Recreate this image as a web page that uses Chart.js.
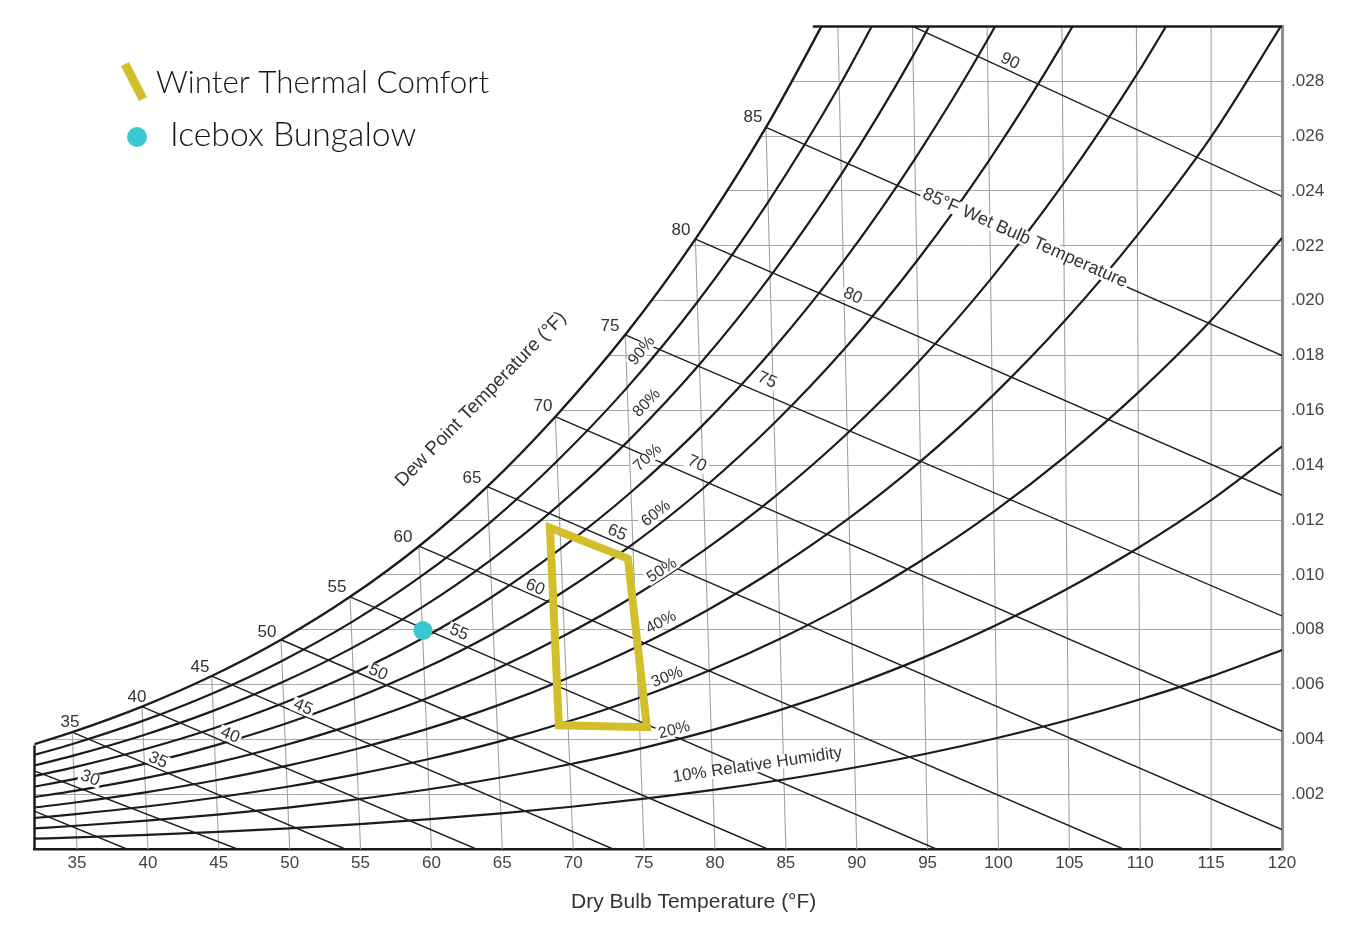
<!DOCTYPE html>
<html>
<head>
<meta charset="utf-8">
<title>Psychrometric chart</title>
<script src="https://cdn.jsdelivr.net/npm/chart.js@4.4.1/dist/chart.umd.min.js"></script>
<style>
  html, body { margin: 0; padding: 0; background: #fff; }
  #wrap { width: 1351px; height: 931px; position: relative; }
</style>
</head>
<body>
<div id="wrap"><canvas id="psychro"></canvas></div>
<script>
'use strict'

// Axis ticks
const xTicks = [35, 40, 45, 50, 55, 60, 65, 70, 75, 80, 85, 90, 95, 100, 105, 110, 115, 120];
const yTicks = [0.002, 0.004, 0.006, 0.008, 0.010, 0.012, 0.014, 0.016, 0.018, 0.020, 0.022, 0.024, 0.026, 0.028];

// Relative humidity curves: [dry bulb (as drawn), humidity ratio]
const rh10 = [[31.97,0.000375],[34.97,0.000423],[39.96,0.000516],[44.95,0.000625],[49.94,0.000755],[54.93,0.000908],[59.91,0.001087],[64.90,0.001297],[69.88,0.001542],[74.87,0.001826],[79.87,0.002155],[84.86,0.002535],[89.87,0.002973],[94.88,0.003475],[99.89,0.004049],[104.92,0.004705],[109.95,0.005451],[115,0.006297],[120,0.007255]];
const rh20 = [[31.94,0.000751],[34.93,0.000848],[39.92,0.001032],[44.90,0.001252],[49.88,0.001512],[54.85,0.001818],[59.83,0.002178],[64.79,0.002599],[69.75,0.003091],[74.74,0.003663],[79.73,0.004325],[84.73,0.005091],[89.73,0.005974],[94.75,0.006989],[99.78,0.008151],[104.83,0.009481],[109.90,0.010997],[115,0.012723],[120,0.014683]];
const rh30 = [[31.91,0.001128],[34.90,0.001272],[39.88,0.001550],[44.85,0.001879],[49.82,0.002270],[54.78,0.002731],[59.74,0.003273],[64.69,0.003907],[69.63,0.004648],[74.61,0.005510],[79.60,0.006510],[84.59,0.007669],[89.60,0.009005],[94.62,0.010542],[99.67,0.012308],[104.74,0.014331],[109.85,0.016644],[115,0.019282],[120,0.022286]];
const rh40 = [[31.88,0.001504],[34.86,0.001697],[39.83,0.002068],[44.80,0.002508],[49.76,0.003030],[54.71,0.003647],[59.65,0.004371],[64.58,0.005220],[69.50,0.006213],[74.48,0.007369],[79.46,0.008711],[84.45,0.010267],[89.46,0.012065],[94.50,0.014136],[99.56,0.016519],[104.66,0.019256],[109.80,0.022392],[115,0.025977],[120,0.030075]];
const rh50 = [[31.85,0.001882],[34.83,0.002123],[39.79,0.002587],[44.75,0.003139],[49.70,0.003793],[54.63,0.004565],[59.56,0.005473],[64.48,0.006539],[69.38,0.007786],[74.34,0.009238],[79.32,0.010928],[84.31,0.012887],[89.33,0.015153],[94.37,0.017771],[99.45,0.020787],[104.57,0.024258],[109.75,0.028242],[115,0.032814]];
const rh60 = [[31.82,0.002259],[34.80,0.002549],[39.75,0.003107],[44.70,0.003770],[49.64,0.004557],[54.56,0.005486],[59.47,0.006580],[64.37,0.007863],[69.25,0.009366],[74.21,0.011119],[79.18,0.013159],[84.17,0.015528],[89.19,0.018273],[94.24,0.021448],[99.33,0.025112],[104.48,0.029338],[109.70,0.034203]];
const rh70 = [[31.79,0.002638],[34.76,0.002976],[39.71,0.003628],[44.65,0.004403],[49.57,0.005323],[54.49,0.006409],[59.38,0.007690],[64.26,0.009193],[69.12,0.010954],[74.07,0.013011],[79.04,0.015406],[84.03,0.018193],[89.05,0.021423],[94.10,0.025166],[99.21,0.029496],[104.39,0.034498]];
const rh80 = [[31.76,0.003016],[34.73,0.003404],[39.67,0.004149],[44.60,0.005037],[49.51,0.006091],[54.41,0.007336],[59.30,0.008804],[64.16,0.010529],[69.00,0.012551],[73.94,0.014914],[78.90,0.017670],[83.89,0.020878],[88.91,0.024605],[93.97,0.028929],[99.09,0.033940]];
const rh90 = [[31.73,0.003395],[34.69,0.003832],[39.63,0.004672],[44.55,0.005673],[49.45,0.006860],[54.34,0.008265],[59.21,0.009922],[64.05,0.011870],[68.87,0.014155],[73.80,0.016829],[78.76,0.019950],[83.74,0.023587],[88.76,0.027818],[93.83,0.032737]];
const rh100 = [[31.70,0.003775],[34.66,0.004261],[39.58,0.005196],[44.50,0.006309],[49.39,0.007632],[54.26,0.009197],[59.12,0.011044],[63.94,0.013218],[68.74,0.015768],[73.67,0.018755],[78.62,0.022245],[83.60,0.026320],[88.62,0.031064]];
const rhLevels = [10, 20, 30, 40, 50, 60, 70, 80, 90];

// Wet bulb lines: [x1, w1, x2, w2]
const wetBulbTemps = [25, 30, 35, 40, 45, 50, 55, 60, 65, 70, 75, 80, 85, 90];
const wetBulbLines = [
  [31.9, 0.0014, 38.5, 0], [31.75, 0.0029, 46.3, 0], [34.66, 0.004261, 53.9, 0],
  [39.58, 0.005196, 63.15, 0], [44.50, 0.006309, 72.8, 0], [49.39, 0.007632, 83.7, 0],
  [54.26, 0.009197, 95.6, 0], [59.12, 0.011044, 108.8, 0], [63.94, 0.013218, 120, 0.00071],
  [68.74, 0.015768, 120, 0.00429], [73.67, 0.018755, 120, 0.0085], [78.62, 0.022245, 120, 0.0129],
  [83.60, 0.026320, 120, 0.0180], [89.5, 0.031064, 120, 0.0238]
];

// Dry bulb lines (they lean a little): [bottom, top x, top w]
const dryBulbLines = [
  [35, 34.66, 0.004261], [40, 39.58, 0.005196], [45, 44.50, 0.006309], [50, 49.39, 0.007632],
  [55, 54.26, 0.009197], [60, 59.12, 0.011044], [65, 63.94, 0.013218], [70, 68.74, 0.015768],
  [75, 73.67, 0.018755], [80, 78.62, 0.022245], [85, 83.60, 0.026320], [90, 88.67, 0.030],
  [95, 93.93, 0.030], [100, 99.20, 0.030], [105, 104.47, 0.030], [110, 109.73, 0.030], [115, 115, 0.030]
];

// Overlays
const comfortZone = [[68.36, 0.01172], [73.86, 0.01059], [75.20, 0.00444], [68.99, 0.00451]];
const icebox = [59.40, 0.00797];

// Chart frame
const frameLeft = [[32, 0], [32, 0.00378]];
const frameTop = [[86.9, 0.030], [120, 0.030]];
const frameMask = [[32, 0.0040], [32, 0.030]];

// Label anchors (data units)
const dewPointTemps = [35, 40, 45, 50, 55, 60, 65, 70, 75, 80, 85];
const dewPointSpots = [[34.50,0.00462],[39.23,0.00553],[43.67,0.00663],[48.40,0.00790],[53.34,0.00954],[57.99,0.01136],[62.86,0.01351],[67.87,0.01616],[72.60,0.01908],[77.60,0.02257],[82.68,0.02670]];
const wbLabelTemps = [30, 35, 40, 45, 50, 55, 60, 65, 70, 75, 80, 90];
const wbLabelSpots = [[35.92,0.00258],[40.71,0.00324],[45.79,0.00415],[50.94,0.00517],[56.23,0.00644],[61.94,0.00790],[67.31,0.00954],[73.09,0.01154],[78.73,0.01405],[83.67,0.01710],[89.72,0.02017],[100.81,0.02873]];
const rhLabelLevels = [20, 30, 40, 50, 60, 70, 80, 90];
const rhLabelSpots = [[77.13,0.00433],[76.63,0.00626],[76.20,0.00826],[76.27,0.01016],[75.85,0.01223],[75.26,0.01427],[75.19,0.01627],[74.84,0.01817]];

const YELLOW = '#d3bf2b';
const CYAN = '#3cc6d1';
const INK = '#1c1c1c';
const TEXT = '#333';
const FONT = '"Liberation Sans", Arial, sans-serif';

const rhCurves = [rh10, rh20, rh30, rh40, rh50, rh60, rh70, rh80, rh90];
const toXY = arr => arr.map(p => ({x: p[0], y: p[1]}));

function angleOn(chart, pts, x) {
  const sx = chart.scales.x, sy = chart.scales.y;
  let i = 1;
  while (i < pts.length - 1 && pts[i][0] < x) i++;
  const a = pts[i - 1], b = pts[i];
  return Math.atan2(sy.getPixelForValue(b[1]) - sy.getPixelForValue(a[1]),
                    sx.getPixelForValue(b[0]) - sx.getPixelForValue(a[0]));
}

function putText(ctx, text, x, y, angle, size, knock) {
  ctx.save();
  ctx.translate(x, y);
  ctx.rotate(angle);
  ctx.font = size + 'px ' + FONT;
  ctx.textAlign = 'center';
  ctx.textBaseline = 'middle';
  if (knock) {
    const w = ctx.measureText(text).width;
    ctx.fillStyle = '#fff';
    ctx.fillRect(-w / 2 - 2, -size * 0.42, w + 4, size * 0.84);
  }
  ctx.fillStyle = TEXT;
  ctx.fillText(text, 0, 0);
  ctx.restore();
}

// labels go under the comfort zone outline
const chartLabels = {
  id: 'chartLabels',
  beforeDatasetDraw(chart, args) {
    if (args.index !== 1) return;
    const ctx = chart.ctx;
    const px = v => chart.scales.x.getPixelForValue(v);
    const py = v => chart.scales.y.getPixelForValue(v);

    dewPointTemps.forEach((t, i) => {
      putText(ctx, String(t), px(dewPointSpots[i][0]), py(dewPointSpots[i][1]), 0, 17, false);
    });

    wbLabelTemps.forEach((t, i) => {
      const l = wetBulbLines[wetBulbTemps.indexOf(t)];
      const ang = angleOn(chart, [[l[0], l[1]], [l[2], l[3]]], 0);
      putText(ctx, String(t), px(wbLabelSpots[i][0]), py(wbLabelSpots[i][1]), ang, 17, true);
    });

    const l85 = wetBulbLines[wetBulbTemps.indexOf(85)];
    putText(ctx, '85°F Wet Bulb Temperature', px(101.87), py(0.02228),
      angleOn(chart, [[l85[0], l85[1]], [l85[2], l85[3]]], 0), 18, true);

    rhLabelLevels.forEach((lv, i) => {
      const curve = rhCurves[rhLevels.indexOf(lv)];
      const s = rhLabelSpots[i];
      putText(ctx, lv + '%', px(s[0]), py(s[1]), angleOn(chart, curve, s[0]), 16, true);
    });

    putText(ctx, '10% Relative Humidity', px(83.0), py(0.00306), angleOn(chart, rh10, 83), 17, true);
    putText(ctx, 'Dew Point Temperature (°F)', px(63.5), py(0.01640), angleOn(chart, rh100, 66), 19, false);
  },
  afterDraw(chart) {
    const ctx = chart.ctx;
    const sx = chart.scales.x;
    ctx.save();
    // axis title
    ctx.font = '21px ' + FONT;
    ctx.fillStyle = TEXT;
    ctx.textAlign = 'center';
    ctx.textBaseline = 'middle';
    ctx.fillText('Dry Bulb Temperature (°F)', sx.getPixelForValue(78.5), sx.bottom - 29);

    // legend
    ctx.strokeStyle = YELLOW;
    ctx.lineWidth = 9;
    ctx.lineCap = 'butt';
    ctx.beginPath();
    ctx.moveTo(125, 64);
    ctx.lineTo(143, 99);
    ctx.stroke();
    ctx.fillStyle = CYAN;
    ctx.beginPath();
    ctx.arc(137, 137, 10, 0, Math.PI * 2);
    ctx.fill();

    ctx.fillStyle = '#151515';
    ctx.textAlign = 'left';
    const fit = (text, x, y, width) => {
      ctx.font = '300 30px Lato, "Open Sans", sans-serif';
      const w = ctx.measureText(text).width;
      ctx.font = '300 ' + (30 * width / w).toFixed(1) + 'px Lato, "Open Sans", sans-serif';
      ctx.fillText(text, x, y);
    };
    fit('Winter Thermal Comfort', 156, 83, 333);
    fit('Icebox Bungalow', 170, 135, 246);
    ctx.restore();
  }
};

const datasets = [];
datasets.push({
  label: 'Icebox Bungalow', data: [{x: icebox[0], y: icebox[1]}], showLine: false,
  pointRadius: 9.5, pointBackgroundColor: CYAN, pointBorderWidth: 0
});
datasets.push({
  label: 'Winter Thermal Comfort', data: toXY(comfortZone.concat(comfortZone.slice(0, 2))),
  showLine: true, borderColor: YELLOW, borderWidth: 8, borderJoinStyle: 'miter', pointRadius: 0
});
[frameLeft, frameTop].forEach(f => datasets.push({
  data: toXY(f), showLine: true, borderColor: INK, borderWidth: 2.5, pointRadius: 0, clip: false
}));
datasets.push({
  label: 'Saturation', data: toXY(rh100), showLine: true, borderColor: INK, borderWidth: 2.4,
  pointRadius: 0, cubicInterpolationMode: 'monotone', fill: 'end', backgroundColor: '#fff'
});
rhCurves.forEach(c => datasets.push({
  data: toXY(c), showLine: true, borderColor: INK, borderWidth: 2.2,
  pointRadius: 0, cubicInterpolationMode: 'monotone'
}));
wetBulbLines.forEach(l => datasets.push({
  data: [{x: l[0], y: l[1]}, {x: l[2], y: l[3]}], showLine: true,
  borderColor: INK, borderWidth: 1.4, pointRadius: 0
}));
dryBulbLines.forEach(l => datasets.push({
  data: [{x: l[0], y: 0}, {x: l[1], y: l[2]}], showLine: true,
  borderColor: '#a2a2a2', borderWidth: 1.1, pointRadius: 0
}));
// hides the grid stubs left of the saturation curve
datasets.push({
  data: toXY(frameMask), showLine: true, borderColor: '#fff', borderWidth: 4, pointRadius: 0, clip: false
});

new Chart(document.getElementById('psychro'), {
  type: 'scatter',
  data: { datasets: datasets },
  options: {
    responsive: true,
    maintainAspectRatio: false,
    animation: false,
    events: [],
    layout: { padding: { left: 34.5, top: 26.5, right: 0, bottom: 0 } },
    plugins: {
      legend: { display: false },
      tooltip: { enabled: false },
      filler: { propagate: false, drawTime: 'beforeDatasetsDraw' }
    },
    scales: {
      x: {
        type: 'linear', min: 32, max: 120,
        afterBuildTicks: s => { s.ticks = xTicks.map(v => ({value: v})); },
        afterFit: s => { s.height = 82; },
        grid: { display: false, drawTicks: false },
        border: { color: INK, width: 2.5 },
        ticks: { padding: 4, color: '#444', font: { family: FONT, size: 17 } },
        title: { display: false }
      },
      y: {
        type: 'linear', position: 'right', min: 0, max: 0.030,
        afterBuildTicks: s => { s.ticks = yTicks.map(v => ({value: v})); },
        afterFit: s => { s.width = 69; },
        grid: { color: '#a8a8a8', lineWidth: 1, drawTicks: false },
        border: { color: '#8f8f8f', width: 3 },
        ticks: {
          padding: 9, color: '#444', font: { family: FONT, size: 17 },
          callback: v => v.toFixed(3).slice(1)
        }
      }
    }
  },
  plugins: [chartLabels]
});
</script>
</body>
</html>
